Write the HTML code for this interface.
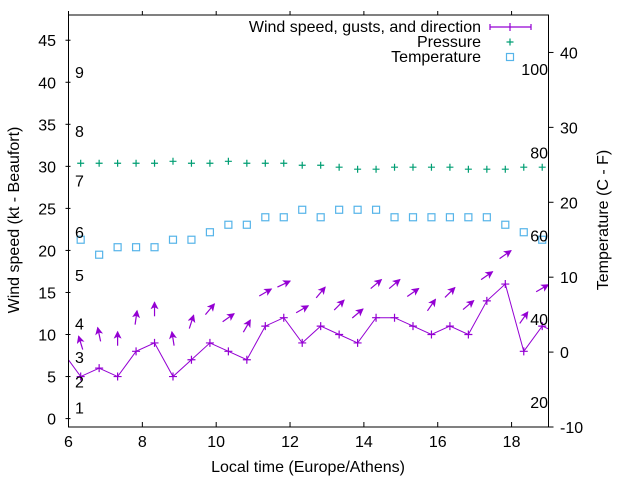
<!DOCTYPE html>
<html><head><meta charset="utf-8"><style>
body{margin:0;background:#fff}
svg{display:block;font-family:"Liberation Sans",sans-serif;font-size:16px}
</style></head><body>
<svg id="c" width="640" height="480" viewBox="0 0 640 480">
<defs><marker id="ah" markerWidth="9" markerHeight="9" refX="7" refY="4" orient="auto" markerUnits="userSpaceOnUse"><path d="M0,0 L8,4 L0,8 L2,4 Z" fill="#9400d3"/></marker></defs>
</svg>
<script>
const times=[5.83,6.33,6.83,7.33,7.83,8.33,8.83,9.33,9.83,10.33,10.83,11.33,11.83,12.33,12.83,13.33,13.83,14.33,14.83,15.33,15.83,16.33,16.83,17.33,17.83,18.33,18.83,19.33];
const wind=[8,5,6,5,8,9,5,7,9,8,7,11,12,9,11,10,9,12,12,11,10,11,10,14,16,8,11,10];
const gust=[null,9,10,9.5,12,13,9.5,11.5,13,12,11,15,16,13,15,13.5,12.5,16,16,15,13.5,15,13.5,17,19.5,12,15.5,null];
const dirDeg=[null,107,102,90,82,90,99,72,50,35,60,30,25,30,50,45,40,40,40,35,55,45,40,35,35,55,30,null];
const pressure=[null,30.37,30.37,30.37,30.37,30.37,30.6,30.37,30.37,30.6,30.37,30.37,30.37,30.13,30.13,29.9,29.66,29.66,29.9,29.9,29.9,29.9,29.66,29.66,29.66,29.9,29.9,null];
const temp=[null,15,13,14,14,14,15,15,16,17,17,18,18,19,18,19,19,19,18,18,18,18,18,18,17,16,15,null];
const xTicks=[6,8,10,12,14,16,18];
const yTicks=[0,5,10,15,20,25,30,35,40,45];
const y2Ticks=[-10,0,10,20,30,40];
const bftLabels=["1","2","3","4","5","6","7","8","9"];
const bftKt=[1.3,4.4,7.3,11.3,17.1,22.2,28.3,34.2,41.2];
const fLabels=[20,40,60,80,100];

const L=68.5,R=548.5,T=15,B=427;
const X=t=>L+(t-6)*(R-L)/13;
const Y=v=>B-(v+1)*(B-T)/49;
const Y2=c=>B-(c+10)*(B-T)/55;
const svg=document.getElementById('c');
const NS='http://www.w3.org/2000/svg';
function mk(tag,at,parent){const e=document.createElementNS(NS,tag);for(const k in at)e.setAttribute(k,at[k]);(parent||svg).appendChild(e);return e;}

const clip=mk('clipPath',{id:'pc'});mk('rect',{x:L,y:T,width:R-L,height:B-T},clip);
const plot=mk('g',{'clip-path':'url(#pc)'});

temp.forEach((v,i)=>{if(v===null)return;const r=mk('rect',{x:X(times[i])-3.5,y:Y2(v)-3.5,width:7,height:7,fill:'none',stroke:'#56b4e9','stroke-width':1.2},plot);

});
pressure.forEach((v,i)=>{if(v===null)return;const x=X(times[i]),y=Y(v);const p=mk('path',{d:`M${x-3.5},${y}H${x+3.5}M${x},${y-3.5}V${y+3.5}`,stroke:'#009e73','stroke-width':1.2},plot);

});
const wl=mk('polyline',{points:wind.map((v,i)=>X(times[i])+','+Y(v)).join(' '),fill:'none',stroke:'#9400d3','stroke-width':1},plot);


wind.forEach((v,i)=>{const x=X(times[i]),y=Y(v);const p=mk('path',{d:`M${x-4},${y}H${x+4}M${x},${y-4}V${y+4}`,stroke:'#9400d3','stroke-width':1.2},plot);

});
gust.forEach((g,i)=>{if(g===null)return;const a=dirDeg[i]*Math.PI/180,x=X(times[i]),y=Y(g),h=7;
const ln=mk('line',{x1:x-h*Math.cos(a),y1:y+h*Math.sin(a),x2:x+h*Math.cos(a),y2:y-h*Math.sin(a),stroke:'#9400d3','stroke-width':1.2,'marker-end':'url(#ah)'},plot);

});

const bd=mk('rect',{x:L,y:T,width:R-L,height:B-T,fill:'none',stroke:'#000','stroke-width':1});


xTicks.forEach(t=>{const x=X(t);mk('path',{d:`M${x},${B}V${B-5}M${x},${T}V${T-4}`,stroke:'#000'});
const tx=mk('text',{x:x,y:B+20,'text-anchor':'middle'});tx.textContent=t;

});
yTicks.forEach(v=>{const y=Y(v);mk('path',{d:`M${L-3},${y}H${L+2}`,stroke:'#000'});
const tx=mk('text',{x:56,y:y+6,'text-anchor':'end'});tx.textContent=v;

});
y2Ticks.forEach(v=>{const y=Y2(v);mk('path',{d:`M${R},${y}H${R+5}`,stroke:'#000'});
const tx=mk('text',{x:560,y:y+6,'text-anchor':'start'});tx.textContent=v;

});
bftLabels.forEach((s,i)=>{const tx=mk('text',{x:75,y:Y(bftKt[i])+6});tx.textContent=s;

});
fLabels.forEach(f=>{const tx=mk('text',{x:548,y:Y2((f-32)*5/9)+6,'text-anchor':'end'});tx.textContent=f;

});
</script>
<script>
(function(){const svg=document.getElementById('c');const NS='http://www.w3.org/2000/svg';
function t(x,y,s,anc,name,rot){const e=document.createElementNS(NS,'text');e.setAttribute('x',x);e.setAttribute('y',y);e.setAttribute('text-anchor',anc);if(rot)e.setAttribute('transform',rot);e.textContent=s;


svg.appendChild(e);}
t(308,472,'Local time (Europe/Athens)','middle','x-axis-title');
t(19,220,'Wind speed (kt - Beaufort)','middle','y-axis-title','rotate(-90 19 220)');
t(608,220,'Temperature (C - F)','middle','y2-axis-title','rotate(-90 608 220)');
t(481,32,'Wind speed, gusts, and direction','end','legend-wind');
t(481,47,'Pressure','end','legend-pressure');
t(481,62,'Temperature','end','legend-temperature');
const g=document.createElementNS(NS,'path');
g.setAttribute('d','M490,27H531M490,24V30M531,24V30M510,23V31');
g.setAttribute('stroke-width','1.2');g.setAttribute('fill','none');
g.setAttribute('stroke','#9400d3');


svg.appendChild(g);
const p=document.createElementNS(NS,'path');p.setAttribute('d','M506.5,42H513.5M510,38.5V45.5');p.setAttribute('stroke','#009e73');p.setAttribute('stroke-width','1.2');


svg.appendChild(p);
const r=document.createElementNS(NS,'rect');r.setAttribute('x',506.5);r.setAttribute('y',53.5);r.setAttribute('width',7);r.setAttribute('height',7);r.setAttribute('fill','none');r.setAttribute('stroke','#56b4e9');r.setAttribute('stroke-width','1.2');


svg.appendChild(r);})();
</script>
</body></html>
